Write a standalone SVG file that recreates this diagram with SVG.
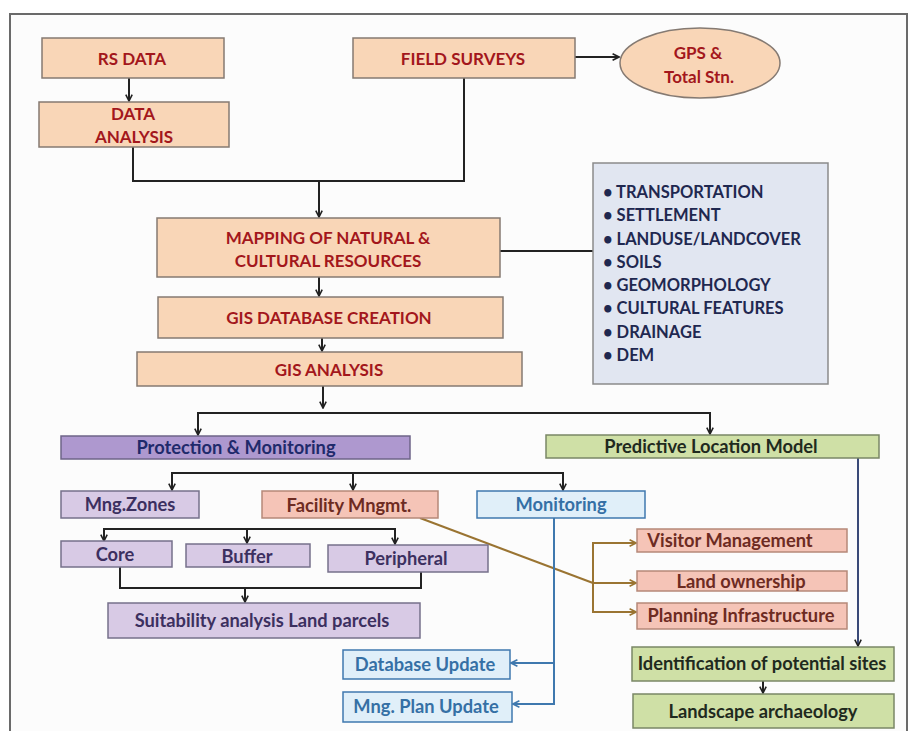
<svg xmlns="http://www.w3.org/2000/svg" width="911" height="731" viewBox="0 0 911 731">
<defs>
<marker id="ak" viewBox="0 0 10 10" refX="9" refY="5" markerWidth="8" markerHeight="8" orient="auto" markerUnits="userSpaceOnUse">
<path d="M1,1 L9,5 L1,9" fill="none" stroke="#222" stroke-width="2"/>
</marker>
<marker id="ab" viewBox="0 0 10 10" refX="9" refY="5" markerWidth="8" markerHeight="8" orient="auto" markerUnits="userSpaceOnUse">
<path d="M1,1 L9,5 L1,9" fill="none" stroke="#3f78ae" stroke-width="2"/>
</marker>
<marker id="ao" viewBox="0 0 10 10" refX="9" refY="5" markerWidth="8" markerHeight="8" orient="auto" markerUnits="userSpaceOnUse">
<path d="M1,1 L9,5 L1,9" fill="none" stroke="#9a7432" stroke-width="2"/>
</marker>
</defs>
<style>
text{font-family:"Lato","Open Sans","Liberation Sans",sans-serif;font-weight:bold;text-anchor:middle;dominant-baseline:central}
.peach{fill:#f9d6b7;stroke:#857a72;stroke-width:1.5}
.tr{fill:#a3171c;font-size:17px}
.pur{fill:#ae98cf;stroke:#6e6488;stroke-width:1.5}
.lpur{fill:#d8cae5;stroke:#76708a;stroke-width:1.5}
.tp{fill:#3c3060;font-size:18.3px}
.grn{fill:#cfe0a6;stroke:#7a8766;stroke-width:1.5}
.tg{fill:#1f2a1e;font-size:18.3px}
.sal{fill:#f5c4b7;stroke:#b58878;stroke-width:1.5}
.ts{fill:#6d2b22;font-size:18.3px}
.blu{fill:#e0eff9;stroke:#3f78ae;stroke-width:1.5}
.tb{fill:#3570a5;font-size:18.3px}
.lst{fill:#1f2850;font-size:16.5px;text-anchor:start}
.c{fill:none;stroke:#222;stroke-width:2}
.cb{fill:none;stroke:#3f78ae;stroke-width:2}
.co{fill:none;stroke:#9a7432;stroke-width:2}
</style>
<rect x="0" y="0" width="911" height="731" fill="#ffffff"/>
<rect x="10" y="14" width="897" height="740" fill="#fcfcfc" stroke="#6a6a6a" stroke-width="2"/>

<g id="connectors">
<line class="c" x1="129" y1="78" x2="129" y2="101" marker-end="url(#ak)"/>
<polyline class="c" points="133,147 133,181 464,181 464,78"/>
<line class="c" x1="319" y1="181" x2="319" y2="217" marker-end="url(#ak)"/>
<line class="c" x1="575" y1="57" x2="619" y2="57" marker-end="url(#ak)"/>
<line class="c" x1="500" y1="251" x2="593" y2="251" stroke-width="1.5"/>
<line class="c" x1="319" y1="277" x2="319" y2="296" marker-end="url(#ak)"/>
<line class="c" x1="322" y1="338" x2="322" y2="351" marker-end="url(#ak)"/>
<line class="c" x1="323" y1="386" x2="323" y2="408" marker-end="url(#ak)"/>
<polyline class="c" points="198,434 198,413 710,413 710,434" marker-end="url(#ak)"/>
<line class="c" x1="198" y1="420" x2="198" y2="435" marker-end="url(#ak)"/>
<polyline class="c" points="172,490 172,473 563,473 563,490" marker-end="url(#ak)"/>
<line class="c" x1="172" y1="478" x2="172" y2="490" marker-end="url(#ak)"/>
<line class="c" x1="353" y1="473" x2="353" y2="490" marker-end="url(#ak)"/>
<polyline class="c" points="104,540 104,529 395,529 395,544" marker-end="url(#ak)"/>
<line class="c" x1="104" y1="532" x2="104" y2="541" marker-end="url(#ak)"/>
<line class="c" x1="247" y1="529" x2="247" y2="543" marker-end="url(#ak)"/>
<polyline class="c" points="120,567 120,588 421,588 421,572"/>
<line class="c" x1="245" y1="588" x2="245" y2="602" marker-end="url(#ak)"/>
<polyline class="co" points="420,518 593,583"/>
<polyline class="co" points="636,543 593,543 593,612 636,612" marker-end="url(#ao)"/>
<line class="co" x1="593" y1="583" x2="636" y2="583" marker-end="url(#ao)"/>
<line class="co" x1="600" y1="543" x2="636" y2="543" marker-end="url(#ao)"/>
<polyline class="cb" points="554,518 554,704 513,704" marker-end="url(#ab)"/>
<line class="cb" x1="554" y1="663" x2="511" y2="663" marker-end="url(#ab)"/>
<line x1="858" y1="458" x2="858" y2="646" stroke="#3a4a78" stroke-width="2" marker-end="url(#ak)"/>
<line class="c" x1="763" y1="681" x2="763" y2="693" marker-end="url(#ak)"/>
</g>

<g id="rs-data"><rect class="peach" x="42" y="38" width="182" height="40"/><text class="tr" x="132" y="58">RS DATA</text></g>
<g id="data-analysis"><rect class="peach" x="39" y="102" width="190" height="45"/><text class="tr" x="133" y="113">DATA</text><text class="tr" x="134" y="136">ANALYSIS</text></g>
<g id="field-surveys"><rect class="peach" x="353" y="38" width="222" height="40"/><text class="tr" x="463" y="58">FIELD SURVEYS</text></g>
<g id="gps"><ellipse class="peach" cx="700" cy="63" rx="80" ry="35"/><text class="tr" x="698" y="52">GPS &amp;</text><text class="tr" x="699" y="76">Total Stn.</text></g>
<g id="mapping"><rect class="peach" x="157" y="218" width="343" height="59"/><text class="tr" x="328" y="237">MAPPING OF NATURAL &amp;</text><text class="tr" x="328" y="260">CULTURAL RESOURCES</text></g>
<g id="gis-db"><rect class="peach" x="158" y="297" width="345" height="41"/><text class="tr" x="329" y="317">GIS DATABASE CREATION</text></g>
<g id="gis-analysis"><rect class="peach" x="137" y="352" width="385" height="34"/><text class="tr" x="329" y="369">GIS ANALYSIS</text></g>
<g id="layers"><rect x="593" y="163" width="235" height="221" fill="#e1e6f1" stroke="#8a8a8a" stroke-width="1.5"/>
<text class="lst" x="603" y="192">• TRANSPORTATION</text>
<text class="lst" x="603" y="215">• SETTLEMENT</text>
<text class="lst" x="603" y="239">• LANDUSE/LANDCOVER</text>
<text class="lst" x="603" y="262">• SOILS</text>
<text class="lst" x="603" y="285">• GEOMORPHOLOGY</text>
<text class="lst" x="603" y="308">• CULTURAL FEATURES</text>
<text class="lst" x="603" y="332">• DRAINAGE</text>
<text class="lst" x="603" y="355">• DEM</text></g>

<g id="protection"><rect class="pur" x="61" y="436" width="349" height="23"/><text x="236" y="447" fill="#1f2a6b" font-size="18.3">Protection &amp; Monitoring</text></g>
<g id="predictive"><rect class="grn" x="546" y="435" width="333" height="23"/><text class="tg" x="711" y="446">Predictive Location Model</text></g>
<g id="mng-zones"><rect class="lpur" x="61" y="491" width="138" height="27"/><text class="tp" x="130" y="504" font-size="20.5">Mng.Zones</text></g>
<g id="facility"><rect class="sal" x="262" y="491" width="176" height="27"/><text class="ts" x="349" y="505">Facility Mngmt.</text></g>
<g id="monitoring"><rect class="blu" x="477" y="491" width="168" height="27"/><text class="tb" x="561" y="504">Monitoring</text></g>
<g id="core"><rect class="lpur" x="61" y="541" width="111" height="26"/><text class="tp" x="115" y="554">Core</text></g>
<g id="buffer"><rect class="lpur" x="186" y="544" width="124" height="23"/><text class="tp" x="247" y="556">Buffer</text></g>
<g id="peripheral"><rect class="lpur" x="328" y="545" width="160" height="27"/><text class="tp" x="406" y="558">Peripheral</text></g>
<g id="suitability"><rect class="lpur" x="108" y="603" width="312" height="35"/><text class="tp" x="262" y="620">Suitability analysis Land parcels</text></g>
<g id="visitor"><rect class="sal" x="637" y="529" width="210" height="23"/><text class="ts" x="730" y="540">Visitor Management</text></g>
<g id="land"><rect class="sal" x="637" y="571" width="210" height="20"/><text class="ts" x="741" y="581">Land ownership</text></g>
<g id="planning"><rect class="sal" x="637" y="603" width="210" height="26"/><text class="ts" x="741" y="615">Planning Infrastructure</text></g>
<g id="db-update"><rect class="blu" x="343" y="650" width="167" height="29"/><text class="tb" x="425" y="664">Database Update</text></g>
<g id="plan-update"><rect class="blu" x="343" y="692" width="169" height="30"/><text class="tb" x="426" y="706">Mng. Plan Update</text></g>
<g id="identification"><rect class="grn" x="632" y="647" width="262" height="34"/><text class="tg" x="762" y="663">Identification of potential sites</text></g>
<g id="landscape"><rect class="grn" x="633" y="694" width="261" height="34"/><text class="tg" x="763" y="711">Landscape archaeology</text></g>
</svg>
